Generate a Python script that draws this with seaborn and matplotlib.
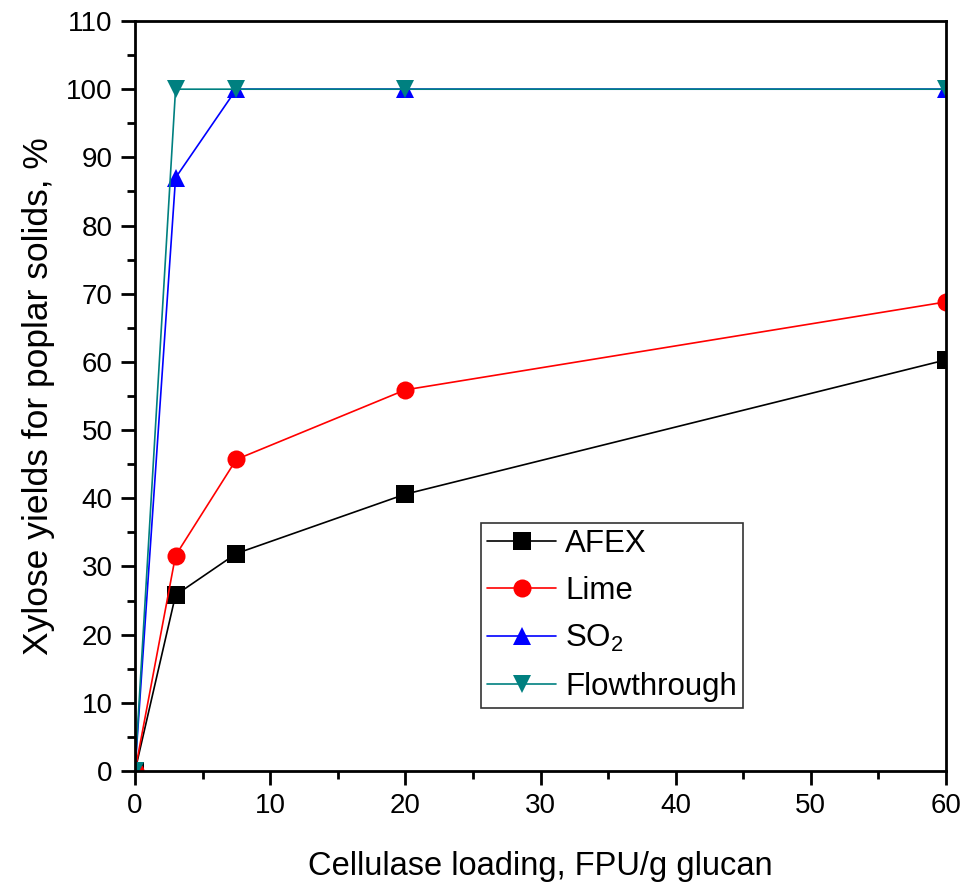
import matplotlib
matplotlib.use("Agg")
import matplotlib.pyplot as plt
import seaborn as sns
import pandas as pd
from matplotlib.ticker import MultipleLocator

# data
loading = [0, 3, 7.5, 20, 60]
afex = [0, 25.8, 31.9, 40.6, 60.3]
lime = [0, 31.6, 45.7, 55.9, 68.8]
so2 = [0, 87.0, 100, 100, 100]
flowthrough = [0, 100, 100, 100, 100]

series = ["AFEX", "Lime", "SO$_2$", "Flowthrough"]
colors = ["black", "red", "blue", "#008080"]
markers = ["s", "o", "^", "v"]

df = pd.concat([
    pd.DataFrame({"loading": loading, "yield": vals, "pretreat": name})
    for name, vals in zip(series, [afex, lime, so2, flowthrough])
])

sns.set_style("ticks")
plt.rcParams["font.family"] = ["Liberation Sans", "DejaVu Sans"]
plt.rcParams["mathtext.fontset"] = "custom"
plt.rcParams["mathtext.rm"] = "Liberation Sans"
plt.rcParams["mathtext.it"] = "Liberation Sans"
for k in ["text.color", "axes.labelcolor", "xtick.color", "ytick.color"]:
    plt.rcParams[k] = "black"

fig = plt.figure(figsize=(9.77, 8.85), dpi=100)
ax = fig.add_axes([135 / 977, 1 - 771 / 885, 811 / 977, 750 / 885])

sns.lineplot(data=df, x="loading", y="yield", hue="pretreat", style="pretreat",
             palette=colors, markers=markers, dashes=False, markersize=13,
             markeredgewidth=0, linewidth=1.2, ax=ax)

ax.set_xlim(0, 60)
ax.set_ylim(0, 110)
ax.xaxis.set_major_locator(MultipleLocator(10))
ax.xaxis.set_minor_locator(MultipleLocator(5))
ax.yaxis.set_major_locator(MultipleLocator(10))
ax.yaxis.set_minor_locator(MultipleLocator(5))
ax.tick_params(which="major", length=10, width=2, labelsize=20, pad=6, direction="out")
ax.tick_params(which="minor", length=6, width=2, direction="out")
for sp in ax.spines.values():
    sp.set_linewidth(2)
    sp.set_color("black")

ax.set_xlabel("Cellulase loading, FPU/g glucan", fontsize=23.5, labelpad=23)
ax.set_ylabel("Xylose yields for poplar solids, %", fontsize=25.5, labelpad=8)

leg = ax.legend(loc="upper left", bbox_to_anchor=(0.4266, 0.331), fontsize=22.5,
                frameon=True, fancybox=False, edgecolor="black",
                handlelength=2.2, handletextpad=0.3, borderpad=0.2,
                labelspacing=0.55, borderaxespad=0)
leg.get_frame().set_linewidth(1.2)

fig.savefig("out.png", dpi=100)
